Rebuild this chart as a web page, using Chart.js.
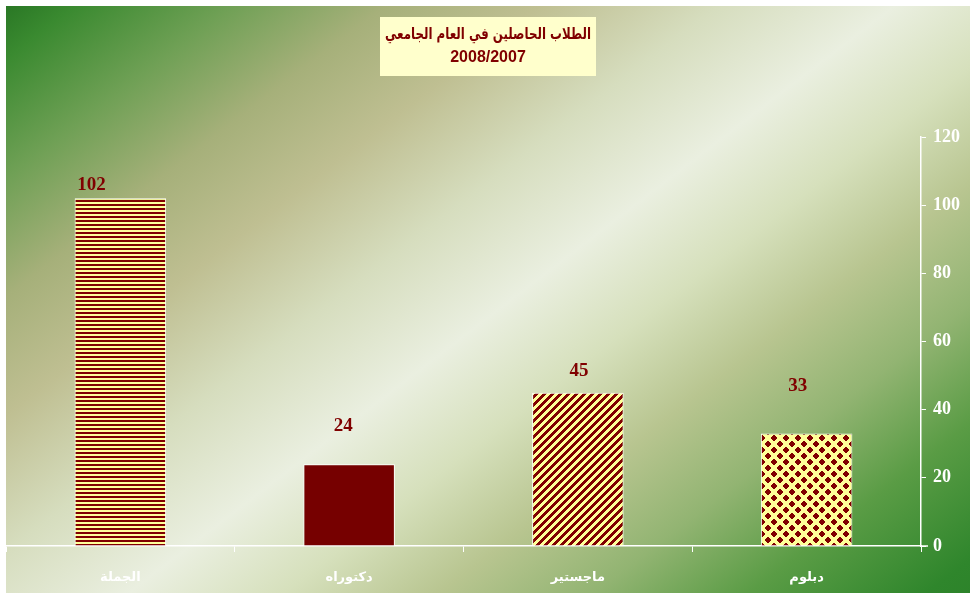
<!DOCTYPE html>
<html>
<head>
<meta charset="utf-8">
<script src="https://cdn.jsdelivr.net/npm/chart.js@4.4.1/dist/chart.umd.min.js"></script>
<style>
  html, body { margin: 0; padding: 0; background: #fff; }
  canvas { display: block; }
</style>
</head>
<body>
<canvas id="chart" width="977" height="600"></canvas>
<script>
// Data
const categories = ["الجملة", "دكتوراه", "ماجستير", "دبلوم"];
const studentCounts = [102, 24, 45, 33];
const barFills = ["hstripe", "solid", "diag", "diamond"];
const titleLines = ["الطلاب الحاصلين في العام الجامعي", "2008/2007"];
const yMax = 120;
const yStep = 20;

const DARK_RED = [128, 0, 0];
const PALE_YELLOW = [255, 255, 153];

// Excel-style hatch fills, painted pixel by pixel so they stay crisp
function makeFill(kind) {
  if (kind === "solid") return "#760000";
  const size = { hstripe: 4, diag: 8, diamond: 12 }[kind];
  const c = document.createElement("canvas");
  c.width = size; c.height = size;
  const g = c.getContext("2d");
  const img = g.createImageData(size, size);
  for (let y = 0; y < size; y++) {
    for (let x = 0; x < size; x++) {
      let red;
      if (kind === "hstripe") red = y < 2;
      else if (kind === "diag") red = (x + y) % 8 < 4;
      else {
        const a = Math.abs(x - 5.5) + Math.abs(y - 5.5);
        const b = Math.min(x, 11 - x) + Math.min(y, 11 - y);
        red = a <= 3.5 || b <= 2.5;
      }
      const col = red ? DARK_RED : PALE_YELLOW;
      const k = (y * size + x) * 4;
      img.data[k] = col[0]; img.data[k + 1] = col[1]; img.data[k + 2] = col[2]; img.data[k + 3] = 255;
    }
  }
  g.putImageData(img, 0, 0);
  return g.createPattern(c, "repeat");
}

// diagonal green / khaki / white wash behind everything
const backdrop = {
  id: "backdrop",
  beforeDraw(chart) {
    const { ctx, width, height } = chart;
    ctx.save();
    ctx.fillStyle = "#ffffff";
    ctx.fillRect(0, 0, width, height);
    const grad = ctx.createLinearGradient(80, -100, 900, 970);
    grad.addColorStop(0.00, "#1a661a");
    grad.addColorStop(0.06, "#3a8a30");
    grad.addColorStop(0.13, "#6fa055");
    grad.addColorStop(0.20, "#a6b07a");
    grad.addColorStop(0.27, "#bfbf92");
    grad.addColorStop(0.35, "#d6ddbe");
    grad.addColorStop(0.43, "#eaefe0");
    grad.addColorStop(0.50, "#d6e0bc");
    grad.addColorStop(0.57, "#b8c590");
    grad.addColorStop(0.64, "#92b472");
    grad.addColorStop(0.71, "#5a9c45");
    grad.addColorStop(0.79, "#2f862c");
    grad.addColorStop(1.00, "#1a6a1a");
    ctx.fillStyle = grad;
    ctx.fillRect(6, 6, 964, 587);
    ctx.restore();
  }
};

const titleBox = {
  id: "titleBox",
  afterDraw(chart) {
    const { ctx } = chart;
    ctx.save();
    ctx.fillStyle = "#ffffcc";
    ctx.fillRect(380, 17, 216, 59);
    ctx.fillStyle = "#800000";
    ctx.textAlign = "center";
    ctx.textBaseline = "middle";
    // Arabic line: keep its height, squeeze it to the box width
    ctx.save();
    ctx.direction = "rtl";
    ctx.font = "bold 16px 'DejaVu Sans'";
    const w = ctx.measureText(titleLines[0]).width;
    const sx = Math.min(1, 206 / w);
    ctx.translate(488, 35);
    ctx.scale(sx, 1);
    ctx.fillText(titleLines[0], 0, 0);
    ctx.restore();
    ctx.direction = "ltr";
    ctx.font = "bold 16px 'Liberation Sans'";
    ctx.fillText(titleLines[1], 488, 58);
    ctx.restore();
  }
};

// value labels, nudged per bar as in the reference
const valueLabels = {
  id: "valueLabels",
  afterDatasetsDraw(chart, args, opts) {
    const { ctx } = chart;
    const meta = chart.getDatasetMeta(0);
    ctx.save();
    ctx.fillStyle = "#800000";
    ctx.font = "bold 19px 'Liberation Serif'";
    ctx.textAlign = "center";
    ctx.textBaseline = "middle";
    meta.data.forEach((bar, i) => {
      const [dx, dy] = opts.shift[i] || [0, 14];
      ctx.fillText(String(studentCounts[i]), bar.x + dx, bar.y - dy);
    });
    ctx.restore();
  }
};

// the x axis line runs a little past the value axis
const axisStub = {
  id: "axisStub",
  afterDraw(chart) {
    const { ctx, chartArea } = chart;
    ctx.save();
    ctx.strokeStyle = "#ffffff";
    ctx.lineWidth = 1.5;
    ctx.beginPath();
    ctx.moveTo(chartArea.right, chartArea.bottom);
    ctx.lineTo(chartArea.right + 7, chartArea.bottom);
    ctx.stroke();
    ctx.restore();
  }
};

new Chart(document.getElementById("chart"), {
  type: "bar",
  data: {
    labels: categories,
    datasets: [{
      data: studentCounts,
      backgroundColor: barFills.map(makeFill),
      borderColor: "#ffffff",
      borderWidth: 1,
      barPercentage: 0.4,
      categoryPercentage: 1,
    }],
  },
  options: {
    responsive: false,
    animation: false,
    layout: { padding: { left: 6, top: 137, right: 7, bottom: 6 } },
    plugins: {
      legend: { display: false },
      tooltip: { enabled: false },
      valueLabels: { shift: [[-29, 13], [-6, 38], [1, 22], [-9, 47]] },
    },
    scales: {
      x: {
        grid: { drawOnChartArea: false, color: "#ffffff", tickLength: 6, offset: true, lineWidth: 1 },
        border: { color: "#ffffff", width: 1.5 },
        ticks: {
          color: "#ffffff",
          font: { family: "DejaVu Sans", weight: "bold", size: 13 },
          padding: 18,
        },
        afterFit(scale) { scale.height = 48; },
      },
      y: {
        position: "right",
        min: 0,
        max: yMax,
        ticks: {
          stepSize: yStep,
          color: "#ffffff",
          font: { family: "Liberation Serif", weight: "bold", size: 18 },
          padding: 7,
        },
        grid: { drawOnChartArea: false, color: "#ffffff", tickLength: 5 },
        border: { color: "#ffffff", width: 1.5 },
        afterFit(scale) { scale.width = 49; },
      },
    },
  },
  plugins: [backdrop, titleBox, valueLabels, axisStub],
});
</script>
</body>
</html>
